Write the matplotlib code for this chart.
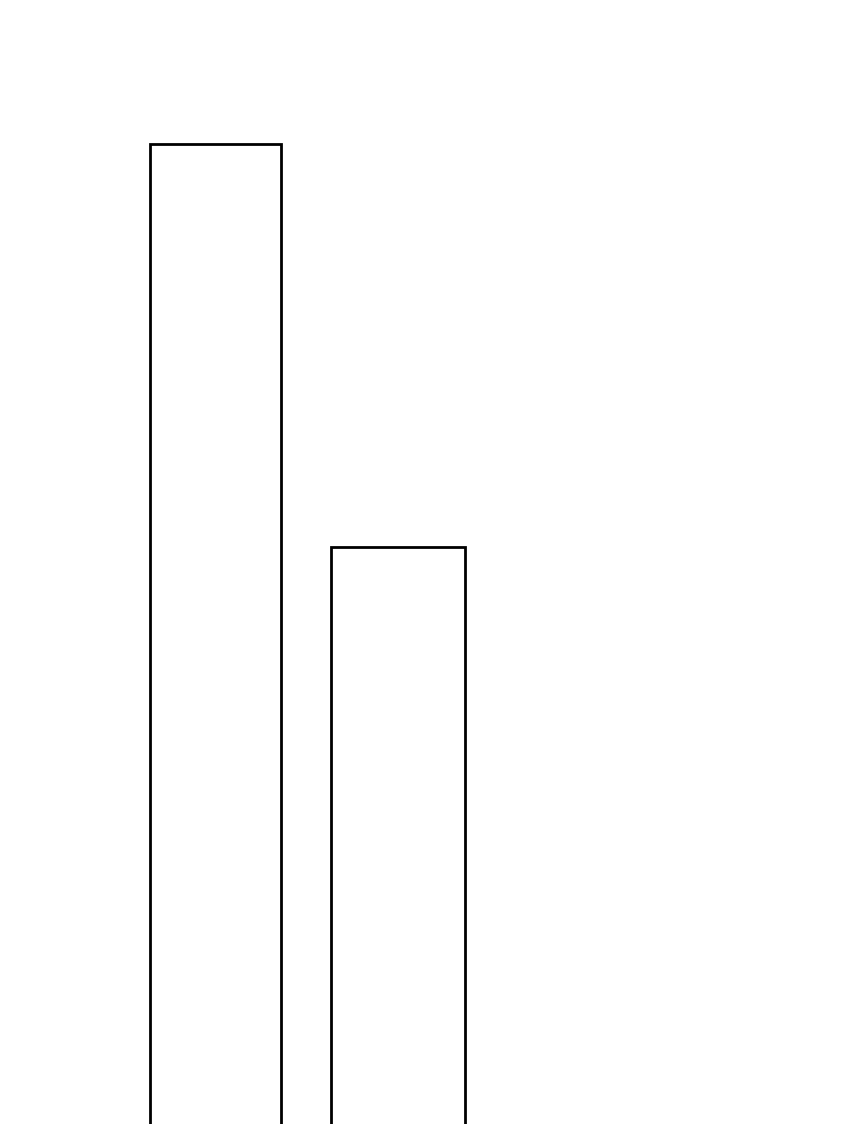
import matplotlib
matplotlib.use("Agg")
import matplotlib.pyplot as plt

# two outlined bars, cropped view (baseline lies below the frame)
categories = ["A", "B"]
values = [100, 59.1]

fig = plt.figure(figsize=(8.5, 11.24), dpi=100)
ax = fig.add_axes([0, 0, 1, 1])
ax.bar(range(len(categories)), values, width=[0.718, 0.734],
       facecolor="white", edgecolor="black", linewidth=2.0)
ax.set_xlim(-1.181, 3.477)
ax.set_ylim(0.5, 114.58)
ax.axis("off")
fig.savefig("out.png", dpi=100, facecolor="white")
